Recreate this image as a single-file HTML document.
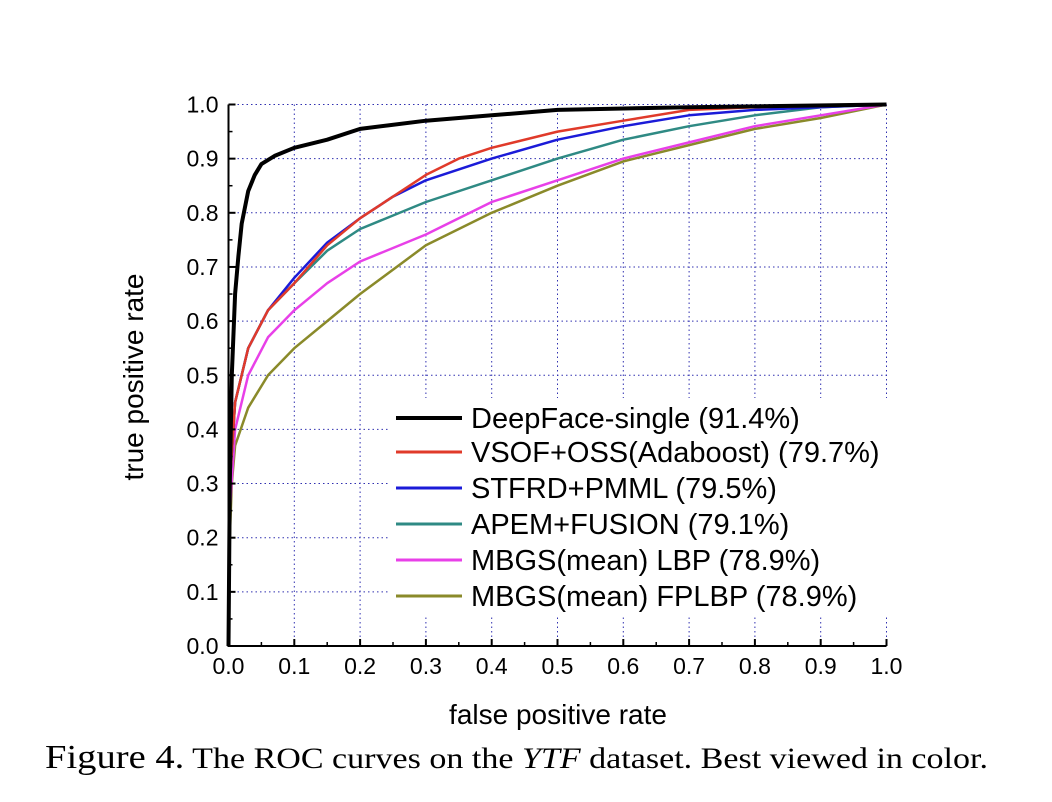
<!DOCTYPE html>
<html><head><meta charset="utf-8"><style>
body{margin:0;background:#fff;}
svg{display:block;font-family:"Liberation Sans",Arial,sans-serif;}
</style></head><body>
<svg id="chart" width="1052" height="802" viewBox="0 0 1052 802" xmlns="http://www.w3.org/2000/svg">
<g id="grid"></g>
<g id="series"></g>
<rect x="390" y="398" width="497" height="217" fill="#fff"/>
<g id="axes"></g>
<g id="legend"></g>
<text x="558" y="724" font-size="28" text-anchor="middle">false positive rate</text>
<text transform="translate(143,377) rotate(-90)" font-size="28" text-anchor="middle">true positive rate</text>
<text x="45" y="768" font-size="30" textLength="943" lengthAdjust="spacingAndGlyphs" font-family="Liberation Serif,serif"><tspan font-size="34">Figure 4.</tspan> The ROC curves on the <tspan font-style="italic">YTF</tspan> dataset. Best viewed in color.</text>
</svg>
<script>
const xTicks=[0,0.1,0.2,0.3,0.4,0.5,0.6,0.7,0.8,0.9,1.0];
const yTicks=[0,0.1,0.2,0.3,0.4,0.5,0.6,0.7,0.8,0.9,1.0];
const names=["DeepFace-single (91.4%)","VSOF+OSS(Adaboost) (79.7%)","STFRD+PMML (79.5%)","APEM+FUSION (79.1%)","MBGS(mean) LBP (78.9%)","MBGS(mean) FPLBP (78.9%)"];
const colors=["#000000","#e03a2a","#1b1bd8","#2f8a84","#e840e8","#8a8a2a"];
const deepfaceX=[0,0.002,0.005,0.01,0.015,0.02,0.03,0.04,0.05,0.07,0.1,0.15,0.2,0.3,0.4,0.5,0.7,1];
const deepfaceY=[0,0.3,0.5,0.65,0.72,0.78,0.84,0.87,0.89,0.905,0.92,0.935,0.955,0.97,0.98,0.99,0.995,1];
const vsofX=[0,0.002,0.01,0.03,0.06,0.1,0.15,0.2,0.25,0.3,0.35,0.4,0.5,0.6,0.7,0.8,1];
const vsofY=[0,0.3,0.45,0.55,0.62,0.67,0.74,0.79,0.83,0.87,0.9,0.92,0.95,0.97,0.99,0.995,1];
const stfrdX=[0,0.002,0.01,0.03,0.06,0.1,0.15,0.2,0.25,0.3,0.4,0.5,0.6,0.7,0.8,1];
const stfrdY=[0,0.3,0.45,0.55,0.62,0.68,0.745,0.79,0.83,0.86,0.9,0.935,0.96,0.98,0.99,1];
const apemX=[0,0.002,0.01,0.03,0.06,0.1,0.15,0.2,0.3,0.4,0.5,0.6,0.7,0.8,0.9,1];
const apemY=[0,0.3,0.45,0.55,0.62,0.67,0.73,0.77,0.82,0.86,0.9,0.935,0.96,0.98,0.995,1];
const lbpX=[0,0.002,0.01,0.03,0.06,0.1,0.15,0.2,0.3,0.4,0.5,0.6,0.7,0.8,0.9,1];
const lbpY=[0,0.25,0.4,0.5,0.57,0.62,0.67,0.71,0.76,0.82,0.86,0.9,0.93,0.96,0.98,1];
const fplbpX=[0,0.002,0.005,0.01,0.03,0.06,0.1,0.15,0.2,0.3,0.4,0.5,0.6,0.7,0.8,0.9,1];
const fplbpY=[0,0.2,0.3,0.37,0.44,0.5,0.55,0.6,0.65,0.74,0.8,0.85,0.895,0.925,0.955,0.975,1];
const seriesX=[deepfaceX,vsofX,stfrdX,apemX,lbpX,fplbpX];
const seriesY=[deepfaceY,vsofY,stfrdY,apemY,lbpY,fplbpY];
const X0=228.5,X1=886.5,Y0=646,Y1=104.5;
const sx=v=>X0+(X1-X0)*v, sy=v=>Y0-(Y0-Y1)*v;
const NS="http://www.w3.org/2000/svg";
function mk(tag,attrs,parent){const e=document.createElementNS(NS,tag);for(const k in attrs)e.setAttribute(k,attrs[k]);parent.appendChild(e);return e;}
const grid=document.getElementById('grid'),axes=document.getElementById('axes'),ser=document.getElementById('series'),leg=document.getElementById('legend');
xTicks.forEach((t,i)=>{if(i>0){const l=mk('line',{x1:sx(t),x2:sx(t),y1:Y0,y2:Y1,stroke:'#3030b0','stroke-width':1,'stroke-dasharray':'1.5,3'},grid);

}
const tk=mk('line',{x1:sx(t),x2:sx(t),y1:Y0,y2:Y0-7,stroke:'#000','stroke-width':2},axes);


if(i<10){const m=mk('line',{x1:sx(t+0.05),x2:sx(t+0.05),y1:Y0,y2:Y0-4,stroke:'#000','stroke-width':1.5},axes);

}
const tx=mk('text',{x:sx(t),y:Y0+28,'font-size':23,'text-anchor':'middle'},axes);tx.textContent=t.toFixed(1);

});
yTicks.forEach((t,i)=>{if(i>0){const l=mk('line',{x1:X0,x2:X1,y1:sy(t),y2:sy(t),stroke:'#3030b0','stroke-width':1,'stroke-dasharray':'1.5,3'},grid);

}
const tk=mk('line',{x1:X0,x2:X0+7,y1:sy(t),y2:sy(t),stroke:'#000','stroke-width':2},axes);


if(i<10){const m=mk('line',{x1:X0,x2:X0+4,y1:sy(t+0.05),y2:sy(t+0.05),stroke:'#000','stroke-width':1.5},axes);

}
const tx=mk('text',{x:X0-10,y:sy(t)+8,'font-size':23,'text-anchor':'end'},axes);tx.textContent=t.toFixed(1);

});
const ax=mk('path',{d:`M${X0},${Y1}V${Y0}H${X1}`,fill:'none',stroke:'#000','stroke-width':2},axes);


for(let s=seriesX.length-1;s>=0;s--){const d=seriesX[s].map((x,i)=>(i?'L':'M')+sx(x).toFixed(1)+','+sy(seriesY[s][i]).toFixed(1)).join('');
const p=mk('path',{d:d,fill:'none',stroke:colors[s],'stroke-width':s===0?4:2.5,'stroke-linejoin':'round'},ser);

}
const legY=[418,452,488,524,560,596];
names.forEach((n,i)=>{const l=mk('line',{x1:396,x2:462,y1:legY[i],y2:legY[i],stroke:colors[i],'stroke-width':i===0?4:3},leg);


const t=mk('text',{x:471,y:legY[i]+10,'font-size':29},leg);t.textContent=n;

});
</script>
</body></html>
